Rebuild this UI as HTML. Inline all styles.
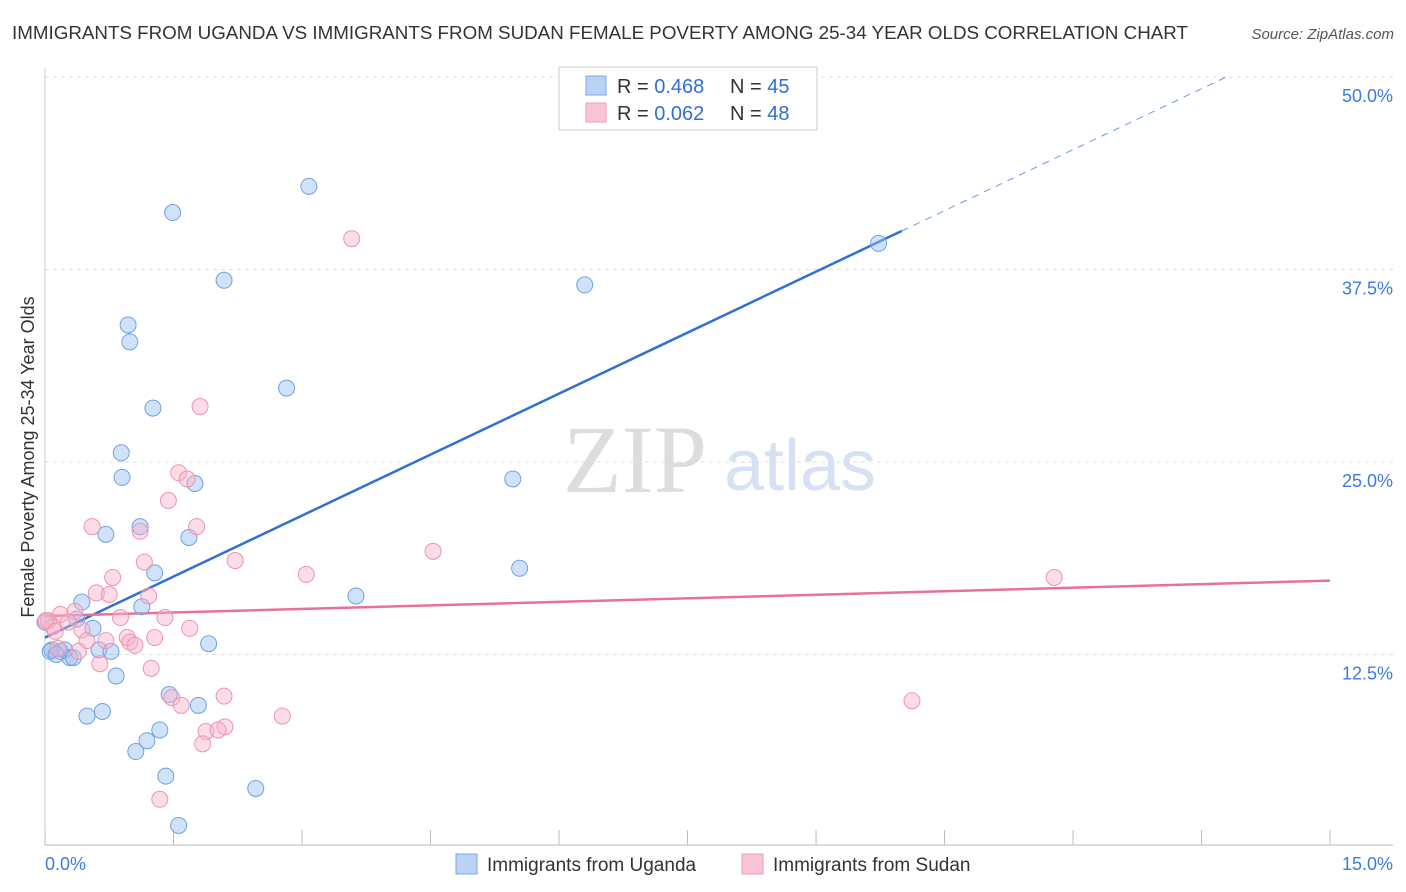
<!DOCTYPE html>
<html><head><meta charset="utf-8">
<style>
body{margin:0;background:#fff;font-family:"Liberation Sans",sans-serif;}
#wrap{position:relative;width:1406px;height:892px;overflow:hidden;}
</style></head>
<body>
<div id="wrap">
<svg id="chart" width="1406" height="892" xmlns="http://www.w3.org/2000/svg">
<text x="12" y="39" font-size="18" fill="#333" textLength="1176" lengthAdjust="spacingAndGlyphs">IMMIGRANTS FROM UGANDA VS IMMIGRANTS FROM SUDAN FEMALE POVERTY AMONG 25-34 YEAR OLDS CORRELATION CHART</text>
<text x="1394" y="39" font-size="15" fill="#555" font-style="italic" text-anchor="end">Source: ZipAtlas.com</text>
<text x="635" y="492" font-size="96" fill="#ddd" font-family="Liberation Serif,serif" text-anchor="middle">ZIP</text>
<text x="800" y="490" font-size="72" fill="#d6e2f3" text-anchor="middle">atlas</text>
<text transform="translate(34,457) rotate(-90)" font-size="18" fill="#333" text-anchor="middle">Female Poverty Among 25-34 Year Olds</text>
<g id="grid"></g><g id="ticks"></g><g id="lines"></g><g id="pts"></g>
<g>
<rect x="559" y="67" width="258" height="63" fill="#fff" stroke="#ccc"/>
<rect x="586" y="76" width="20" height="19" fill="#b9d2f5" stroke="#7aa7e6"/>
<rect x="586" y="103" width="20" height="19" fill="#f9c5d5" stroke="#ee9ab4"/>
<text x="617" y="93" font-size="20" fill="#333">R = <tspan fill="#2f6fd6">0.468</tspan></text>
<text x="730" y="93" font-size="20" fill="#333">N = <tspan fill="#2f6fd6">45</tspan></text>
<text x="617" y="120" font-size="20" fill="#333">R = <tspan fill="#2f6fd6">0.062</tspan></text>
<text x="730" y="120" font-size="20" fill="#333">N = <tspan fill="#2f6fd6">48</tspan></text>
</g>
<g>
<rect x="456" y="854" width="21" height="20" fill="#b9d2f5" stroke="#7aa7e6"/>
<text x="487" y="871" font-size="19" fill="#333">Immigrants from Uganda</text>
<rect x="742" y="854" width="21" height="20" fill="#f9c5d5" stroke="#ee9ab4"/>
<text x="773" y="871" font-size="19" fill="#333">Immigrants from Sudan</text>
</g>
<text x="45" y="870" font-size="18" fill="#3d7be0">0.0%</text>
<text x="1393" y="870" font-size="18" fill="#3d7be0" text-anchor="end">15.0%</text>
</svg>
</div>
<script>
const yTicks=[12.5,25,37.5,50];
const yTickLabels=["12.5%","25.0%","37.5%","50.0%"];
const ugandaX=[3.08,1.49,2.09,6.30,9.73,0.97,0.99,2.82,1.26,0.89,0.90,1.75,5.46,1.11,0.71,1.68,5.54,1.28,3.63,0.43,1.13,0.37,0.56,0.08,0.18,0.23,0.29,0.33,0.63,0.77,1.91,0.83,1.45,1.79,0.49,0.67,1.34,1.19,1.06,1.41,2.46,1.56,0.0,0.06,0.13];
const ugandaY=[42.9,41.2,36.8,36.5,39.2,33.9,32.8,29.8,28.5,25.6,24.0,23.6,23.9,20.8,20.3,20.1,18.1,17.8,16.3,15.9,15.6,14.8,14.2,12.8,12.7,12.8,12.3,12.3,12.8,12.7,13.2,11.1,9.9,9.2,8.5,8.8,7.6,6.9,6.2,4.6,3.8,1.4,14.6,12.7,12.5];
const sudanX=[3.58,1.81,1.56,1.66,1.44,0.55,1.77,1.11,4.53,2.22,1.16,3.05,11.78,0.79,0.60,0.75,1.21,0.18,0.35,0.88,1.40,0.04,0.43,1.69,0.71,0.49,0.96,0.99,1.05,1.28,0.15,0.39,0.64,1.24,1.48,2.09,1.59,10.12,2.77,1.88,2.10,2.02,1.84,1.34,0.09,0.01,0.27,0.12];
const sudanY=[39.5,28.6,24.3,23.9,22.5,20.8,20.8,20.5,19.2,18.6,18.5,17.7,17.5,17.5,16.5,16.4,16.3,15.1,15.3,14.9,14.9,14.7,14.1,14.2,13.4,13.4,13.6,13.3,13.1,13.6,12.9,12.7,11.9,11.6,9.7,9.8,9.2,9.5,8.5,7.5,7.8,7.6,6.7,3.1,14.3,14.7,14.6,14.0];
const ugTrend=[0,13.6,15,53.2];
const sdTrend=[0,15.0,15,17.3];
const ugSolidEnd=10.0;
const X=v=>45+v*85.67, Y=v=>847-v*15.4;
const NS="http://www.w3.org/2000/svg";
function mk(tag,attrs,parent){const e=document.createElementNS(NS,tag);for(const k in attrs)e.setAttribute(k,attrs[k]);document.getElementById(parent).appendChild(e);return e;}
yTicks.forEach((t,i)=>{
 const g=mk('line',{x1:45,x2:1393,y1:Y(t),y2:Y(t),stroke:'#ddd','stroke-dasharray':'4,4'},'grid');
 
 
 const tx=mk('text',{x:1393,y:Y(t)+25,'font-size':18,fill:'#3d7be0','text-anchor':'end'},'ticks');
 tx.textContent=yTickLabels[i];
 
 
});
const ax=mk('line',{x1:45,x2:1393,y1:845,y2:845,stroke:'#bbb'},'ticks');


const ay=mk('line',{x1:45,x2:45,y1:68,y2:845,stroke:'#ccc'},'ticks');


for(let i=0;i<=10;i++){const t=mk('line',{x1:X(i*1.5),x2:X(i*1.5),y1:830,y2:845,stroke:'#bbb'},'ticks');
 
 }
const ugY=x=>ugTrend[1]+(ugTrend[3]-ugTrend[1])*(x-ugTrend[0])/(ugTrend[2]-ugTrend[0]);
const l1=mk('line',{x1:X(0),y1:Y(ugY(0)),x2:X(ugSolidEnd),y2:Y(ugY(ugSolidEnd)),stroke:'#2f6fd6','stroke-width':2.5},'lines');


const xe=Math.min(15,(50-ugTrend[1])/(ugTrend[3]-ugTrend[1])*(ugTrend[2]-ugTrend[0]));
const l2=mk('line',{x1:X(ugSolidEnd),y1:Y(ugY(ugSolidEnd)),x2:X(xe),y2:Y(ugY(xe)),stroke:'#6a9be0','stroke-width':1,'stroke-dasharray':'7,6'},'lines');


const l3=mk('line',{x1:X(sdTrend[0]),y1:Y(sdTrend[1]),x2:X(sdTrend[2]),y2:Y(sdTrend[3]),stroke:'#e8709a','stroke-width':2.5},'lines');


ugandaX.forEach((x,i)=>{const c=mk('circle',{cx:X(x),cy:Y(ugandaY[i]),r:8,fill:'rgba(150,190,240,0.45)',stroke:'#6fa0e6','stroke-width':1},'pts');
 
 });
sudanX.forEach((x,i)=>{const c=mk('circle',{cx:X(x),cy:Y(sudanY[i]),r:8,fill:'rgba(248,180,200,0.45)',stroke:'#ef93b1','stroke-width':1},'pts');
 
 });
</script>
</body></html>
